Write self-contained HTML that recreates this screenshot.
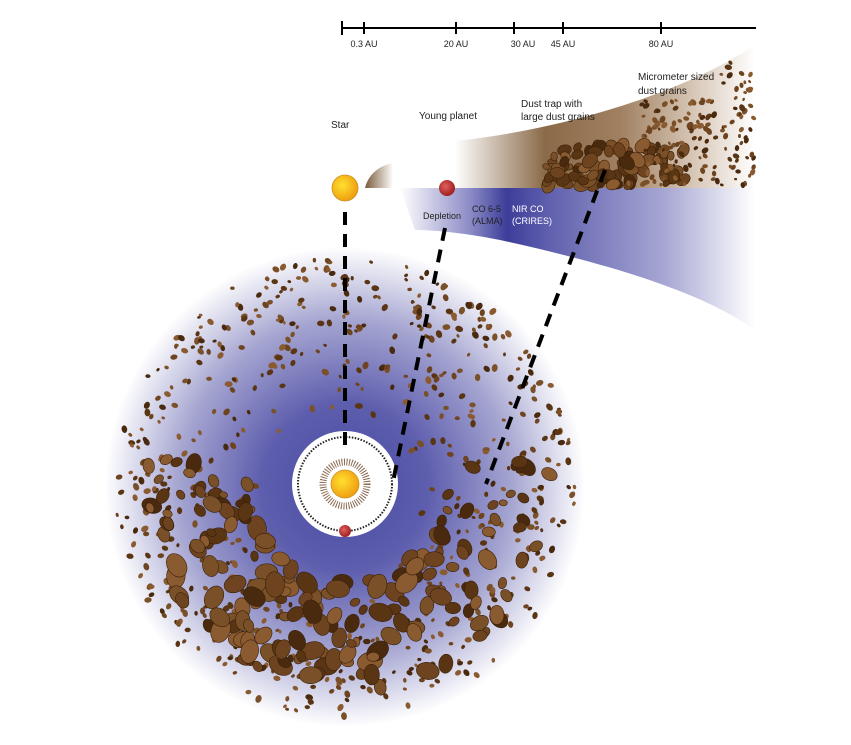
<!DOCTYPE html>
<html><head><meta charset="utf-8"><style>
html,body{margin:0;padding:0;background:#fff;}
svg{display:block;font-family:"Liberation Sans",sans-serif;}
</style></head><body>
<svg id="s" width="851" height="745" viewBox="0 0 851 745" xmlns="http://www.w3.org/2000/svg">
<defs>
<radialGradient id="disk" cx="345" cy="487" r="240" gradientUnits="userSpaceOnUse">
<stop offset="0" stop-color="#4a4aa2"/>
<stop offset="0.35" stop-color="#5e5eae"/>
<stop offset="0.7" stop-color="#a6a6d2"/>
<stop offset="1" stop-color="#ffffff"/>
</radialGradient>
<linearGradient id="blue" x1="400" y1="0" x2="755" y2="0" gradientUnits="userSpaceOnUse">
<stop offset="0" stop-color="#fff"/>
<stop offset="0.2" stop-color="#8a8ac6"/>
<stop offset="0.3" stop-color="#3d3d9a"/>
<stop offset="0.42" stop-color="#6060ae"/>
<stop offset="0.75" stop-color="#a8a8d4"/>
<stop offset="1" stop-color="#fff"/>
</linearGradient>
<linearGradient id="brown" x1="455" y1="0" x2="755" y2="0" gradientUnits="userSpaceOnUse">
<stop offset="0" stop-color="#fff"/>
<stop offset="0.3" stop-color="#8a6a48"/>
<stop offset="0.55" stop-color="#a08060"/>
<stop offset="0.8" stop-color="#d8c8b8"/>
<stop offset="1" stop-color="#fff"/>
</linearGradient>
<linearGradient id="brown2" x1="365" y1="0" x2="393" y2="0" gradientUnits="userSpaceOnUse">
<stop offset="0" stop-color="#7a5a3a"/><stop offset="1" stop-color="#fff"/>
</linearGradient>
<radialGradient id="sun" cx="0.4" cy="0.4" r="0.6"><stop offset="0" stop-color="#ffe030"/><stop offset="1" stop-color="#f0a010"/></radialGradient>
<radialGradient id="pl" cx="0.4" cy="0.4" r="0.6"><stop offset="0" stop-color="#e06060"/><stop offset="1" stop-color="#a02020"/></radialGradient>
</defs>
<circle cx="345" cy="487" r="240" fill="url(#disk)"/>
<g id="grains"></g>
<circle cx="345" cy="484" r="53" fill="#fff"/>
<circle cx="345" cy="484" r="47" fill="none" stroke="#222" stroke-width="2" stroke-dasharray="1.5 1.5"/>
<circle cx="345" cy="484" r="22" fill="none" stroke="#8a6a50" stroke-width="7" stroke-dasharray="1 1.5"/>
<circle cx="345" cy="484" r="14" fill="url(#sun)" stroke="#c89020" stroke-width="0.8"/>
<circle cx="345" cy="531" r="6" fill="url(#pl)"/>
<path d="M400 188 L755 188 L755 330 C700 290 600 262 500 240 C460 232 430 230 415 230 Z" fill="url(#blue)"/>
<path d="M455 188 L455 141 C560 130 680 95 755 45 L755 188 Z" fill="url(#brown)"/>
<path d="M365 188 C368 175 378 166 393 163 L393 188 Z" fill="url(#brown2)"/>
<g id="tg"></g>
<circle cx="345" cy="188" r="13" fill="url(#sun)" stroke="#c89020" stroke-width="0.8"/>
<circle cx="447" cy="188" r="8" fill="url(#pl)"/>
<g stroke="#000" stroke-width="2">
<line x1="342" y1="28" x2="756" y2="28"/>
<line x1="342" y1="21" x2="342" y2="35"/><line x1="364" y1="22" x2="364" y2="34"/>
<line x1="456" y1="22" x2="456" y2="34"/><line x1="514" y1="22" x2="514" y2="34"/>
<line x1="563" y1="22" x2="563" y2="34"/><line x1="661" y1="22" x2="661" y2="34"/>
</g>
<g font-size="9" fill="#222" text-anchor="middle">
<text x="364" y="47">0.3 AU</text><text x="456" y="47">20 AU</text><text x="523" y="47">30 AU</text>
<text x="563" y="47">45 AU</text><text x="661" y="47">80 AU</text>
</g>
<g font-size="10" fill="#222">
<text x="331" y="128">Star</text>
<text x="419" y="119">Young planet</text>
<text x="521" y="107">Dust trap with</text><text x="521" y="120">large dust grains</text>
<text x="638" y="80">Micrometer sized</text><text x="638" y="94">dust grains</text>
<text x="423" y="219" font-size="9">Depletion</text>
<text x="472" y="212" font-size="9">CO 6-5</text><text x="472" y="224" font-size="9">(ALMA)</text>
<text x="512" y="212" font-size="9" fill="#fff">NIR CO</text><text x="512" y="224" font-size="9" fill="#fff">(CRIRES)</text>
</g>
<g stroke="#000" stroke-width="4" stroke-dasharray="13 9" fill="none">
<line x1="345" y1="212" x2="345" y2="448"/>
<line x1="445" y1="228" x2="393" y2="482"/>
<line x1="605" y1="170" x2="486" y2="484"/>
</g>
</svg>
<script>
var seed=7;function r(){seed=(seed*16807)%2147483647;return (seed-1)/2147483646;}
var ns="http://www.w3.org/2000/svg",g=document.getElementById("grains"),tg=document.getElementById("tg");
var cols=["#5a3514","#6e4420","#8a5a30","#4a2a0e","#7a5028"];
function el(par,x,y,rx,ry,a,stroke){var e=document.createElementNS(ns,"ellipse");e.setAttribute("cx",x.toFixed(1));e.setAttribute("cy",y.toFixed(1));e.setAttribute("rx",rx.toFixed(1));e.setAttribute("ry",ry.toFixed(1));e.setAttribute("transform","rotate("+(a|0)+" "+x.toFixed(1)+" "+y.toFixed(1)+")");e.setAttribute("fill",cols[(r()*5)|0]);if(stroke){e.setAttribute("stroke","#3a2008");e.setAttribute("stroke-width","0.6");}par.appendChild(e);}
var cx=345,cy=487;
for(var i=0;i<650;i++){var t=r()*Math.PI*2,d=75+Math.sqrt(r())*155;var x=cx+Math.cos(t)*d,y=cy+Math.sin(t)*d;var s=1.4+r()*1.6;el(g,x,y,s*1.35,s,r()*180);}
for(var i=0;i<190;i++){var t=Math.PI*(-0.05+r()*1.1),d=95+r()*110;var x=cx+Math.cos(t)*d,y=cy+Math.sin(t)*d;var s=3.5+r()*6;if(Math.sin(t)<0.25)s*=0.8;el(g,x,y,s*1.35,s,r()*180,1);}
for(var i=0;i<90;i++){var x=545+r()*140,y=145+r()*40;var top=140-(x-455)*0.25;if(y<top+4)continue;var s=2.5+r()*4;el(tg,x,y,s*1.35,s,r()*180,1);}
for(var i=0;i<200;i++){var x=640+r()*115,y=60+r()*126;var top=141-(x-455)*0.32;if(y<top+3)continue;if(y<100&&x<718)continue;var s=1.2+r()*1.6;el(tg,x,y,s*1.35,s,r()*180);}
</script>
</body></html>
